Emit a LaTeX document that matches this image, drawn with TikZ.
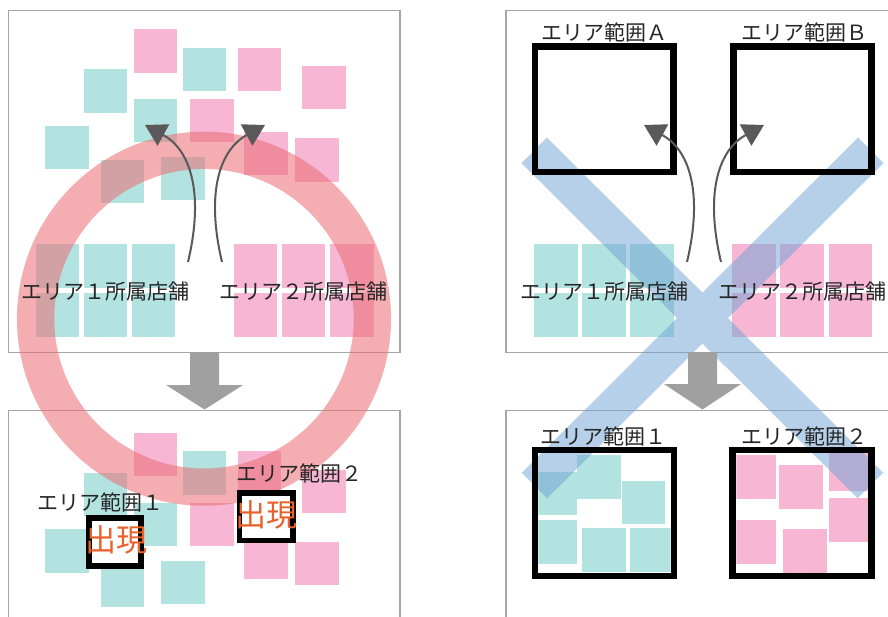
\documentclass[tikz,border=0pt]{standalone}
\usepackage{fontspec}
\newfontfamily\jp{Noto Sans CJK JP}
\usetikzlibrary{arrows.meta}
\definecolor{tealsq}{HTML}{B3E3E0}
\definecolor{pinksq}{HTML}{F6B6D4}
\definecolor{panelgray}{HTML}{A6A6A6}
\definecolor{bigarrow}{HTML}{A0A0A0}
\definecolor{curvegray}{HTML}{595959}
\definecolor{ringred}{HTML}{EB6C73}
\definecolor{xblue}{HTML}{6DA3D3}
\definecolor{appear}{HTML}{E9612A}
\newcommand\mysq[3]{\fill[#1] (#2,#3) rectangle ++(43.5,43.5);}
\begin{document}
\begin{tikzpicture}[x=1pt,y=-1pt,
  panel/.style={draw=panelgray,line width=1.5pt,fill=white},
  lbl/.style={font=\jp\fontsize{21}{21}\selectfont,inner sep=0pt,text=black!85},
  appeartxt/.style={font=\jp\fontsize{31}{31}\selectfont,inner sep=0pt,text=appear},
  areabox/.style={draw=black,line width=6.5pt},
  smallbox/.style={draw=black,line width=5.5pt,fill=white},
  curv/.style={draw=curvegray,line width=2pt,-{Triangle[length=21pt,width=24pt]}},
  downarrow/.style={fill=bigarrow}]
\useasboundingbox (0,0) rectangle (888,617);
\clip (0,0) rectangle (888,617);
% panels
\draw[panel] (8.5,10.7) rectangle (400,352.7);
\draw[panel] (8.5,410.7) rectangle (400,640);
\draw[panel] (506,10.7) rectangle (900,352.7);
\draw[panel] (506,410.7) rectangle (900,640);
% scattered squares, left top and left bottom
\foreach \dy in {0,403.5}{
  \foreach \x/\y in {83.7/69.3,182.7/47.7,133.7/99,45/125.7,100.7/159.7,161/157}
    {\mysq{tealsq}{\x}{\y+\dy}}
  \foreach \x/\y in {133.7/29.3,237.7/47.7,302/66,190/99,244/131.7,295/138.3}
    {\mysq{pinksq}{\x}{\y+\dy}}
}
% store rows, top panels
\foreach \dx in {0,498.7}{
  \foreach \x in {35.7,83.7,131.7}{
    \fill[tealsq] (\x+\dx,243.7) rectangle ++(43.5,44.6);
    \fill[tealsq] (\x+\dx,293.3) rectangle ++(43.5,44);}
  \foreach \x in {233.7,281.7,330}{
    \fill[pinksq] (\x+\dx,243.7) rectangle ++(43.5,44.6);
    \fill[pinksq] (\x+\dx,293.3) rectangle ++(43.5,44);}
}
% squares inside bottom right boxes
\begin{scope}
  \clip (538.3,453.3) rectangle (670.7,572.7);
  \foreach \x/\y in {533.8/471.7,577.3/455,621.7/480.7,533.8/520,582.3/528.3,630/528.3}
    {\mysq{tealsq}{\x}{\y}}
\end{scope}
\begin{scope}
  \clip (736.3,453.3) rectangle (868.4,572.7);
  \foreach \x/\y in {732.5/455,779/465,829/447.5,829/498.3,732.5/520,783.3/529}
    {\mysq{pinksq}{\x}{\y}}
\end{scope}
% pink ring
\draw[ringred,opacity=0.55,line width=37.3pt] (204,318.7) circle (168.4);
% blue cross
\draw[xblue,opacity=0.5,line width=36pt] (534.2,150.3) -- (870.3,485.5) (870.8,150.3) -- (534.5,485.5);
% grey down arrows
\fill[downarrow] (190,352) -- (219,352) -- (219,385) -- (243,385) -- (204.5,409.5) -- (166,385) -- (190,385) -- cycle;
\fill[downarrow] (688,352) -- (717,352) -- (717,384) -- (741,384) -- (702.5,409.5) -- (664,384) -- (688,384) -- cycle;
% area boxes
\draw[areabox] (535,46.5) rectangle (673.5,171.8);
\draw[areabox] (733.3,46.5) rectangle (871.7,171.8);
\draw[areabox] (535,450) rectangle (674,576);
\draw[areabox] (732.6,450) rectangle (871.7,576);
\draw[smallbox] (89,518) rectangle (141,566);
\draw[smallbox] (239.5,493) rectangle (293.2,540.5);
% labels
\node[lbl] (s1l) at (105.8,291.7) {エリア１所属店舗};
\node[lbl] (s2l) at (303.5,291.7) {エリア２所属店舗};
\node[lbl] (s1r) at (604.5,291.7) {エリア１所属店舗};
\node[lbl] (s2r) at (802.2,291.7) {エリア２所属店舗};
\node[lbl] (ra) at (604,32) {エリア範囲Ａ};
\node[lbl] (rb) at (804,32) {エリア範囲Ｂ};
\node[lbl] (r1) at (603.5,436) {エリア範囲１};
\node[lbl] (r2) at (804,436) {エリア範囲２};
\node[lbl] (b1) at (100,502) {エリア範囲１};
\node[lbl] (b2) at (299,473.5) {エリア範囲２};
\node[appeartxt] (ap1) at (116,540) {出現};
\node[appeartxt] (ap2) at (266.5,515) {出現};
% curved arrows
\coordinate (c1s) at (188,262); \coordinate (c1e) at (145,125);
\coordinate (c2s) at (222,262); \coordinate (c2e) at (265,125);
\coordinate (c3s) at (687,262); \coordinate (c3e) at (644,125);
\coordinate (c4s) at (721,262); \coordinate (c4e) at (764,125);
\draw[curv] (c1s) .. controls (205,190) and (189,149) .. (c1e);
\draw[curv] (c2s) .. controls (205,190) and (221,149) .. (c2e);
\draw[curv] (c3s) .. controls (704,190) and (688,149) .. (c3e);
\draw[curv] (c4s) .. controls (704,190) and (720,149) .. (c4e);
\end{tikzpicture}
\end{document}
